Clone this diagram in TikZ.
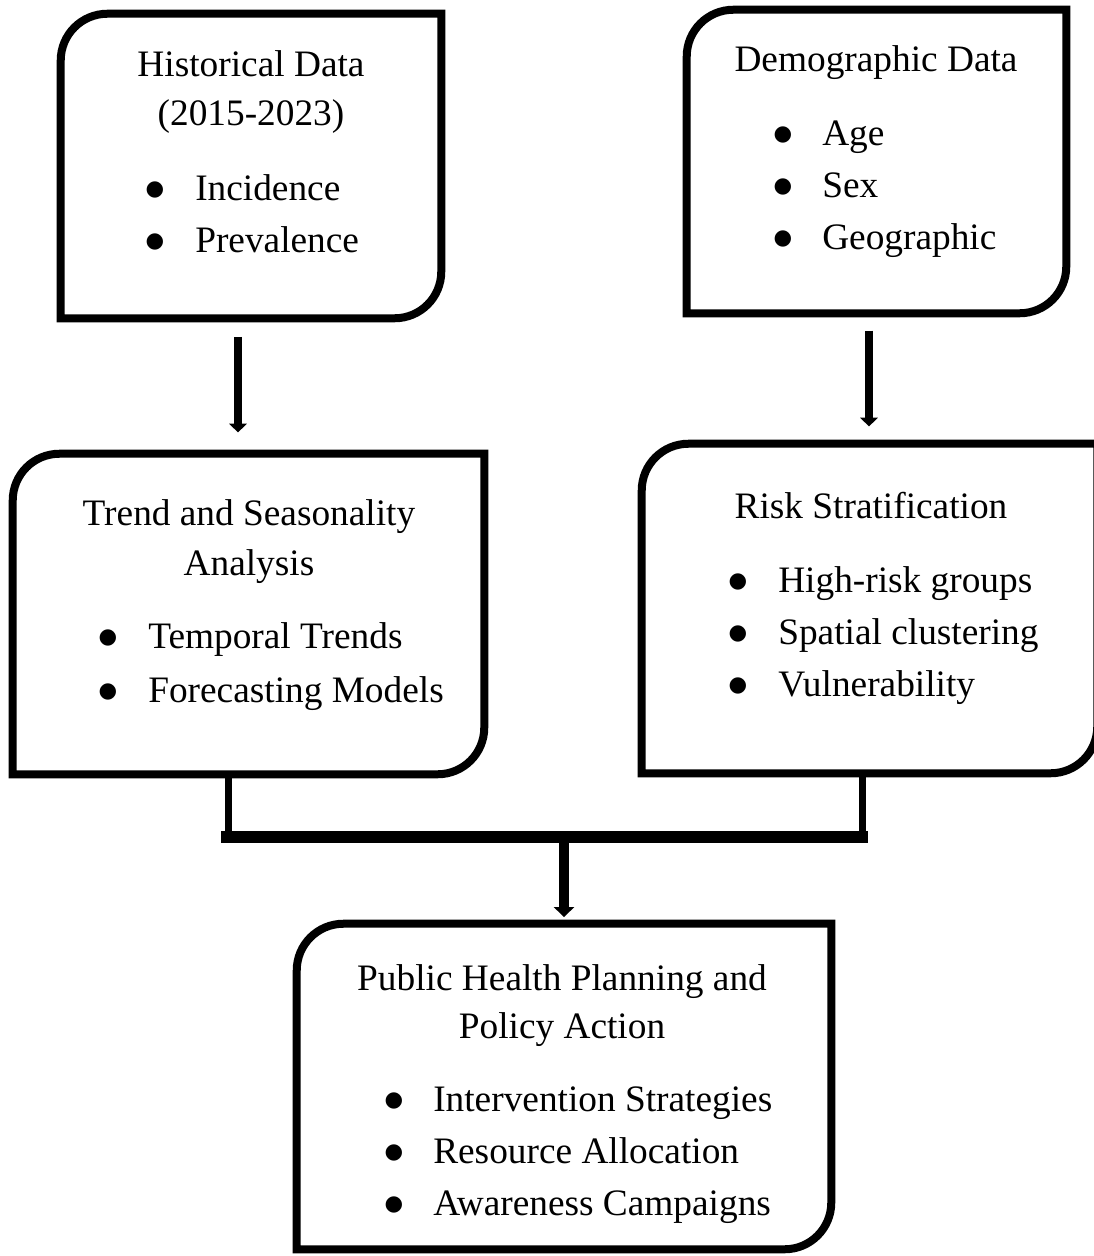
\documentclass[tikz,border=0pt]{standalone}
\usepackage{fontspec}
\setmainfont{Liberation Serif}
\newfontfamily\dotfont{DejaVu Sans}
\usetikzlibrary{arrows.meta,fit}

\newcommand{\framerad}{35pt}
% Frame with rounded top-left and bottom-right corners around a node
\newcommand{\cornerframe}[1]{%
  \draw[frameline] (#1.south west) -- ([yshift=-\framerad]#1.north west)
    arc[start angle=180, end angle=90, radius=\framerad] -- (#1.north east)
    -- ([yshift=\framerad]#1.south east)
    arc[start angle=0, end angle=-90, radius=\framerad] -- cycle;}
% List bullet
\newcommand{\bigbullet}{\raisebox{3.3pt}{\dotfont\fontsize{16}{16}\selectfont ●}}

\tikzset{
  frameline/.style={line width=6pt, line join=miter},
  boxarea/.style={inner sep=0pt, draw=none},
  txt/.style={inner sep=0pt, font=\fontsize{28}{36}\selectfont},
  head/.style={txt, anchor=base},
  item/.style={txt, anchor=base west},
  dot/.style={txt, anchor=base},
  feed/.style={line width=6pt, -{Triangle[width=13pt,length=6.5pt]}},
  drop/.style={line width=5.25pt},
  bus/.style={line width=9pt},
  mainfeed/.style={line width=7.5pt, -{Triangle[width=15pt,length=7.5pt]}}
}

\begin{document}
\begin{tikzpicture}[x=0.75pt,y=-0.75pt]
\useasboundingbox (0,0) rectangle (1094,1256);
\fill[white] (0,0) rectangle (1094,1256);

% ---- box areas ----
\node[boxarea, fit={(61,14) (441,318)}] (hist) {};
\node[boxarea, fit={(687,10) (1066,313)}] (demo) {};
\node[boxarea, fit={(13,454) (484,774)}] (trend) {};
\node[boxarea, fit={(642,444) (1097,773)}] (risk) {};
\node[boxarea, fit={(297,924) (831,1249)}] (plan) {};

\cornerframe{hist}
\cornerframe{demo}
\cornerframe{trend}
\cornerframe{risk}
\cornerframe{plan}

% ---- Historical Data ----
\node[head] (histT1) at (251,77) {Historical Data};
\node[head] (histT2) at (251,125) {(2015-2023)};
\node[dot] (histB1) at (155,200) {\bigbullet};
\node[item] (histI1) at (195,200) {Incidence};
\node[dot] (histB2) at (155,252) {\bigbullet};
\node[item] (histI2) at (195,252) {Prevalence};

% ---- Demographic Data ----
\node[head] (demoT1) at (876,72) {Demographic Data};
\node[dot] (demoB1) at (783,145) {\bigbullet};
\node[item] (demoI1) at (822,145) {Age};
\node[dot] (demoB2) at (783,197) {\bigbullet};
\node[item] (demoI2) at (822,197) {Sex};
\node[dot] (demoB3) at (783,249) {\bigbullet};
\node[item] (demoI3) at (822,249) {Geographic};

% ---- Trend and Seasonality Analysis ----
\node[head] (trendT1) at (249,525) {Trend and Seasonality};
\node[head] (trendT2) at (249,575) {Analysis};
\node[dot] (trendB1) at (108,648) {\bigbullet};
\node[item] (trendI1) at (148,648) {Temporal Trends};
\node[dot] (trendB2) at (108,702) {\bigbullet};
\node[item] (trendI2) at (148,702) {Forecasting Models};

% ---- Risk Stratification ----
\node[head] (riskT1) at (871,518) {Risk Stratification};
\node[dot] (riskB1) at (738,592) {\bigbullet};
\node[item] (riskI1) at (778,592) {High-risk groups};
\node[dot] (riskB2) at (738,644) {\bigbullet};
\node[item] (riskI2) at (778,644) {Spatial clustering};
\node[dot] (riskB3) at (738,696) {\bigbullet};
\node[item] (riskI3) at (778,696) {Vulnerability};

% ---- Public Health Planning ----
\node[head] (planT1) at (562,990) {Public Health Planning and};
\node[head] (planT2) at (562,1038) {Policy Action};
\node[dot] (planB1) at (394,1111) {\bigbullet};
\node[item] (planI1) at (433,1111) {Intervention Strategies};
\node[dot] (planB2) at (394,1163) {\bigbullet};
\node[item] (planI2) at (433,1163) {Resource Allocation};
\node[dot] (planB3) at (394,1215) {\bigbullet};
\node[item] (planI3) at (433,1215) {Awareness Campaigns};

% ---- connectors ----
\coordinate (leftx) at (238,0);
\coordinate (rightx) at (869,0);
\draw[feed, shorten <=14pt, shorten >=16pt] (leftx |- hist.south) -- (leftx |- trend.north);
\draw[feed, shorten <=13pt, shorten >=13pt] (rightx |- demo.south) -- (rightx |- risk.north);

\coordinate (busL) at (221,837);
\coordinate (busR) at (868,837);
\coordinate (dropL) at (228,837);
\coordinate (dropR) at (862,837);
\coordinate (busM) at (564,837);
\draw[drop] (dropL |- trend.south) -- (dropL);
\draw[drop] (dropR |- risk.south) -- (dropR);
\draw[bus] (busL) -- (busR);
\draw[mainfeed, shorten >=5pt] (busM) -- (busM |- plan.north);
\end{tikzpicture}
\end{document}
